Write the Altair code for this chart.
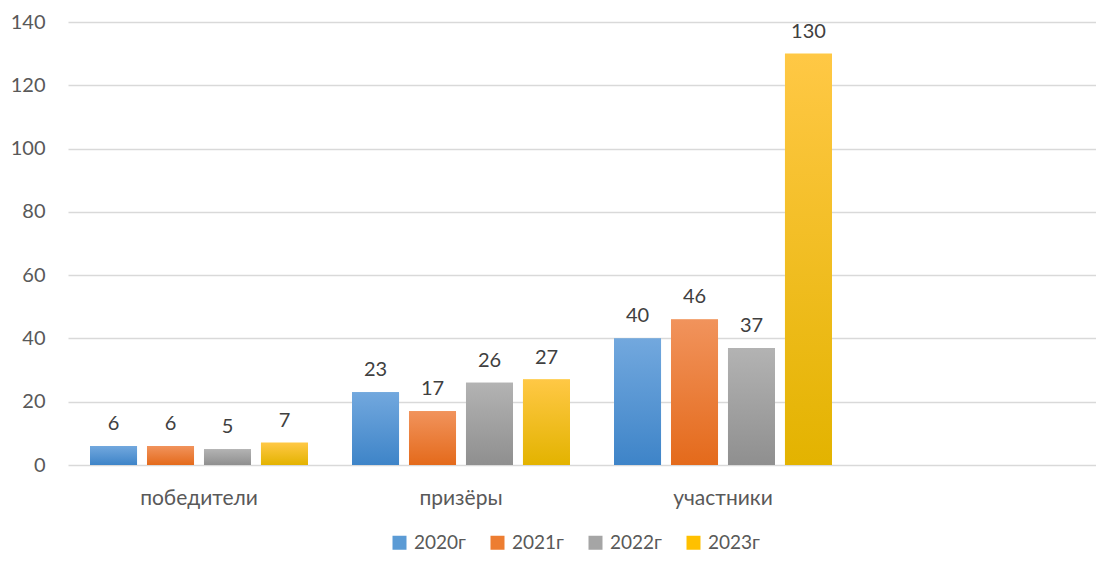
import altair as alt
import pandas as pd

categories = ["победители", "призёры", "участники"]
years = ["2020г", "2021г", "2022г", "2023г"]
v2020 = [6, 23, 40]
v2021 = [6, 17, 46]
v2022 = [5, 26, 37]
v2023 = [7, 27, 130]

solid = ["#5B9BD5", "#ED7D31", "#A5A5A5", "#FFC000"]
tops = ["#72A8DE", "#F1935C", "#B3B3B3", "#FFC845"]
bottoms = ["#3E84C8", "#E46A1B", "#8F8F8F", "#E3B300"]

series = [v2020, v2021, v2022, v2023]
rows = []
for y, vals in zip(years, series):
    for c, v in zip(categories, vals):
        rows.append({"cat": c, "year": y, "value": v})
df = pd.DataFrame(rows)

FONT = "Lato"
x_dom = categories + [" "]

x = alt.X("cat:N", title=None,
          scale=alt.Scale(domain=x_dom, range=[0, 1048], paddingInner=0.168, paddingOuter=0.084),
          axis=alt.Axis(labelAngle=0, tickSize=0, domain=False, labelPadding=22,
                        labelFontSize=21, labelColor="#595959", labelFont=FONT, grid=False))
xo = alt.XOffset("year:N", scale=alt.Scale(domain=years, paddingInner=0.175, paddingOuter=0))
y = alt.Y("value:Q", title=None,
          scale=alt.Scale(domain=[0, 140], nice=False),
          axis=alt.Axis(values=list(range(0, 141, 20)), tickSize=0, domain=False, labelPadding=23,
                        labelFontSize=20, labelColor="#595959", labelFont=FONT,
                        gridColor="#D9D9D9", gridWidth=1.5))

base = alt.Chart(df).mark_bar().encode(
    x=x, xOffset=xo, y=y,
    color=alt.Color("year:N", scale=alt.Scale(domain=years, range=solid),
                    legend=alt.Legend(title=None, orient="none", direction="horizontal",
                                      legendX=322, legendY=511, symbolType="square", symbolSize=196,
                                      symbolStrokeWidth=0, labelFontSize=19, labelColor="#595959",
                                      labelFont=FONT, columnPadding=22, labelOffset=5)),
)

layers = [base]
for yr, t, b in zip(years, tops, bottoms):
    layers.append(
        alt.Chart(df).transform_filter(alt.datum.year == yr).mark_bar(
            color=alt.Gradient(gradient="linear",
                               stops=[alt.GradientStop(color=t, offset=0),
                                      alt.GradientStop(color=b, offset=1)],
                               x1=0, x2=0, y1=0, y2=1)
        ).encode(x=x, xOffset=xo, y=y)
    )

labels = alt.Chart(df).mark_text(dy=-22, fontSize=20, color="#404040", font=FONT).encode(
    x=x, xOffset=xo, y=y, text="value:Q")
layers.append(labels)

chart = alt.layer(*layers).properties(
    width=1028, height=443,
    autosize=alt.AutoSizeParams(type="none"),
    padding={"left": 60, "top": 14, "right": 0, "bottom": 88},
).configure_view(stroke=None).configure_axis(grid=True)

chart.save("out.html", embed_options={"renderer": "svg", "actions": False})
